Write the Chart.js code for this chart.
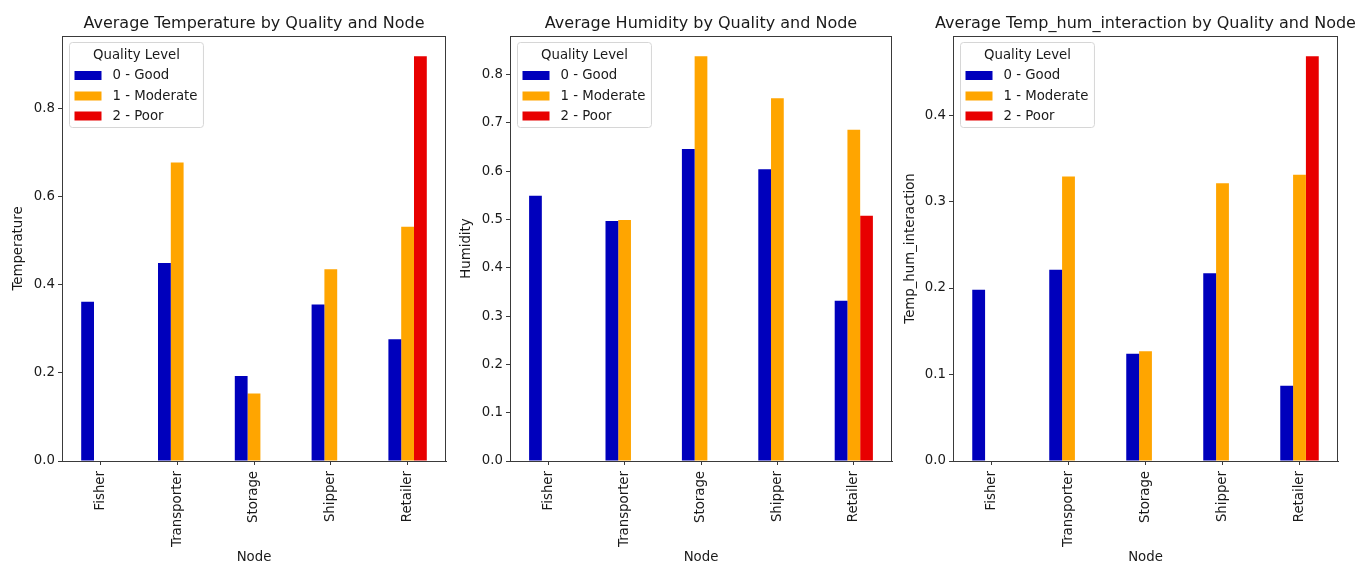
<!DOCTYPE html>
<html>
<head>
<meta charset="utf-8">
<title>Average sensor readings by quality and node</title>
<script src="https://cdn.jsdelivr.net/npm/chart.js@4.4.1/dist/chart.umd.min.js"></script>
<style>
  html, body { margin: 0; padding: 0; background: #ffffff; }
  body { width: 1357px; height: 564px; position: relative; overflow: hidden; }
  canvas { position: absolute; top: 0; }
</style>
</head>
<body>
<!-- each canvas is centred on its plotting area so the title sits centred over it -->
<canvas id="tempChart" width="508" height="564" style="left:0px"></canvas>
<canvas id="humChart" width="502" height="564" style="left:450px"></canvas>
<canvas id="thiChart" width="491" height="564" style="left:900px"></canvas>
<script>
// Supply-chain nodes and quality classes
const nodes = ['Fisher', 'Transporter', 'Storage', 'Shipper', 'Retailer'];
const qualityLevels = ['0 - Good', '1 - Moderate', '2 - Poor'];
const qualityColors = ['#0000BC', '#FFA500', '#E80000'];

// Average temperature per node and quality level
const tempGood     = [0.361, 0.449, 0.193, 0.355, 0.276];
const tempModerate = [null,  0.677, 0.153, 0.435, 0.531];
const tempPoor     = [null,  null,  null,  null,  0.918];

// Average humidity per node and quality level
const humGood     = [0.549, 0.497, 0.646, 0.604, 0.332];
const humModerate = [null,  0.499, 0.838, 0.751, 0.686];
const humPoor     = [null,  null,  null,  null,  0.508];

// Average temperature x humidity interaction per node and quality level
const thiGood     = [0.198, 0.221, 0.124, 0.217, 0.087];
const thiModerate = [null,  0.329, 0.127, 0.321, 0.331];
const thiPoor     = [null,  null,  null,  null,  0.468];

// Y-axis tick values for each panel
const tempTicks = [0.0, 0.2, 0.4, 0.6, 0.8];
const humTicks  = [0.0, 0.1, 0.2, 0.3, 0.4, 0.5, 0.6, 0.7, 0.8];
const thiTicks  = [0.0, 0.1, 0.2, 0.3, 0.4];

const FONT = "'DejaVu Sans', 'Liberation Sans', sans-serif";
const FS = 13.3;
const TEXT = '#1a1a1a';
const AXIS = '#3a3a3a';

// Frame around the plotting area plus a boxed legend in its upper-left corner
const frameAndLegend = {
  id: 'frameAndLegend',
  afterDraw(chart) {
    const { ctx, chartArea: a } = chart;
    ctx.save();
    ctx.strokeStyle = AXIS;
    ctx.lineWidth = 1;
    ctx.strokeRect(Math.round(a.left) + 0.5, Math.round(a.top) + 0.5,
                   Math.round(a.right - a.left) - 1, Math.round(a.bottom - a.top));

    // legend
    ctx.font = FS + 'px ' + FONT;
    const labels = chart.data.datasets.map(d => d.label);
    const textW = Math.max(...labels.map(l => ctx.measureText(l).width));
    const bx = a.left + 7.5, by = a.top + 6.5;
    const bw = 43 + textW + 6, bh = 85;
    const r = 3;
    ctx.beginPath();
    ctx.moveTo(bx + r, by);
    ctx.lineTo(bx + bw - r, by);
    ctx.quadraticCurveTo(bx + bw, by, bx + bw, by + r);
    ctx.lineTo(bx + bw, by + bh - r);
    ctx.quadraticCurveTo(bx + bw, by + bh, bx + bw - r, by + bh);
    ctx.lineTo(bx + r, by + bh);
    ctx.quadraticCurveTo(bx, by + bh, bx, by + bh - r);
    ctx.lineTo(bx, by + r);
    ctx.quadraticCurveTo(bx, by, bx + r, by);
    ctx.closePath();
    ctx.fillStyle = 'rgba(255,255,255,0.8)';
    ctx.fill();
    ctx.strokeStyle = '#d6d6d6';
    ctx.stroke();

    ctx.fillStyle = TEXT;
    ctx.textBaseline = 'middle';
    ctx.textAlign = 'center';
    ctx.fillText('Quality Level', bx + bw / 2, by + 13);
    ctx.textAlign = 'left';
    const rowY = [33, 53.5, 73.5];
    chart.data.datasets.forEach((d, i) => {
      const cy = by + rowY[i];
      ctx.fillStyle = d.backgroundColor;
      ctx.fillRect(bx + 5, cy - 4.5, 27, 9);
      ctx.fillStyle = TEXT;
      ctx.fillText(d.label, bx + 43, cy + 0.5);
    });
    ctx.restore();
  }
};

function makePanel(id, title, yLabel, series, ticks, axisWidth, rightPad, yTitlePad) {
  const dataMax = Math.max(...series.flat().filter(v => v !== null));
  new Chart(document.getElementById(id), {
    type: 'bar',
    data: {
      labels: nodes,
      datasets: series.map((vals, i) => ({
        label: qualityLevels[i],
        data: vals,
        backgroundColor: qualityColors[i],
        borderWidth: 0,
        categoryPercentage: 0.5,
        barPercentage: 1.0
      }))
    },
    options: {
      responsive: false,
      animation: false,
      events: [],
      layout: { padding: 0 },
      plugins: {
        legend: { display: false },
        tooltip: { enabled: false },
        title: {
          display: true,
          text: title,
          color: TEXT,
          font: { family: FONT, size: 16, weight: 'normal', lineHeight: 1.2 },
          padding: { top: 14.5, bottom: 2.3 }
        }
      },
      scales: {
        x: {
          grid: { offset: false, drawOnChartArea: false, drawTicks: true, tickLength: 4, color: AXIS },
          border: { display: true, color: AXIS },
          ticks: {
            autoSkip: false, minRotation: 90, maxRotation: 90, padding: 6,
            color: TEXT, font: { family: FONT, size: FS }
          },
          title: {
            display: true, text: 'Node', color: TEXT,
            font: { family: FONT, size: FS, lineHeight: 1 },
            padding: { top: 0, bottom: -0.5 }
          },
          afterFit(scale) { scale.height = 103; }
        },
        y: {
          min: 0,
          max: dataMax * 1.05,
          grid: { drawOnChartArea: false, drawTicks: true, tickLength: 4, color: AXIS },
          border: { display: true, color: AXIS },
          ticks: {
            padding: 3, color: TEXT, font: { family: FONT, size: FS },
            callback: v => v.toFixed(1)
          },
          afterBuildTicks(scale) { scale.ticks = ticks.map(v => ({ value: v })); },
          title: {
            display: true, text: yLabel, color: TEXT,
            font: { family: FONT, size: FS, lineHeight: 1.2 },
            padding: { top: yTitlePad, bottom: 0 }
          },
          afterFit(scale) { scale.width = axisWidth; }
        },
        // empty right-hand gutter that keeps the canvas centred on the plot
        gutter: {
          type: 'linear',
          position: 'right',
          display: true,
          grid: { display: false },
          border: { display: false },
          ticks: { display: false },
          afterFit(scale) { scale.width = rightPad; }
        }
      }
    },
    plugins: [frameAndLegend]
  });
}

makePanel('tempChart', 'Average Temperature by Quality and Node', 'Temperature',
          [tempGood, tempModerate, tempPoor], tempTicks, 62, 62, 10.5);
makePanel('humChart', 'Average Humidity by Quality and Node', 'Humidity',
          [humGood, humModerate, humPoor], humTicks, 60, 60, 8.7);
makePanel('thiChart', 'Average Temp_hum_interaction by Quality and Node', 'Temp_hum_interaction',
          [thiGood, thiModerate, thiPoor], thiTicks, 53, 53, 3);
</script>
</body>
</html>
